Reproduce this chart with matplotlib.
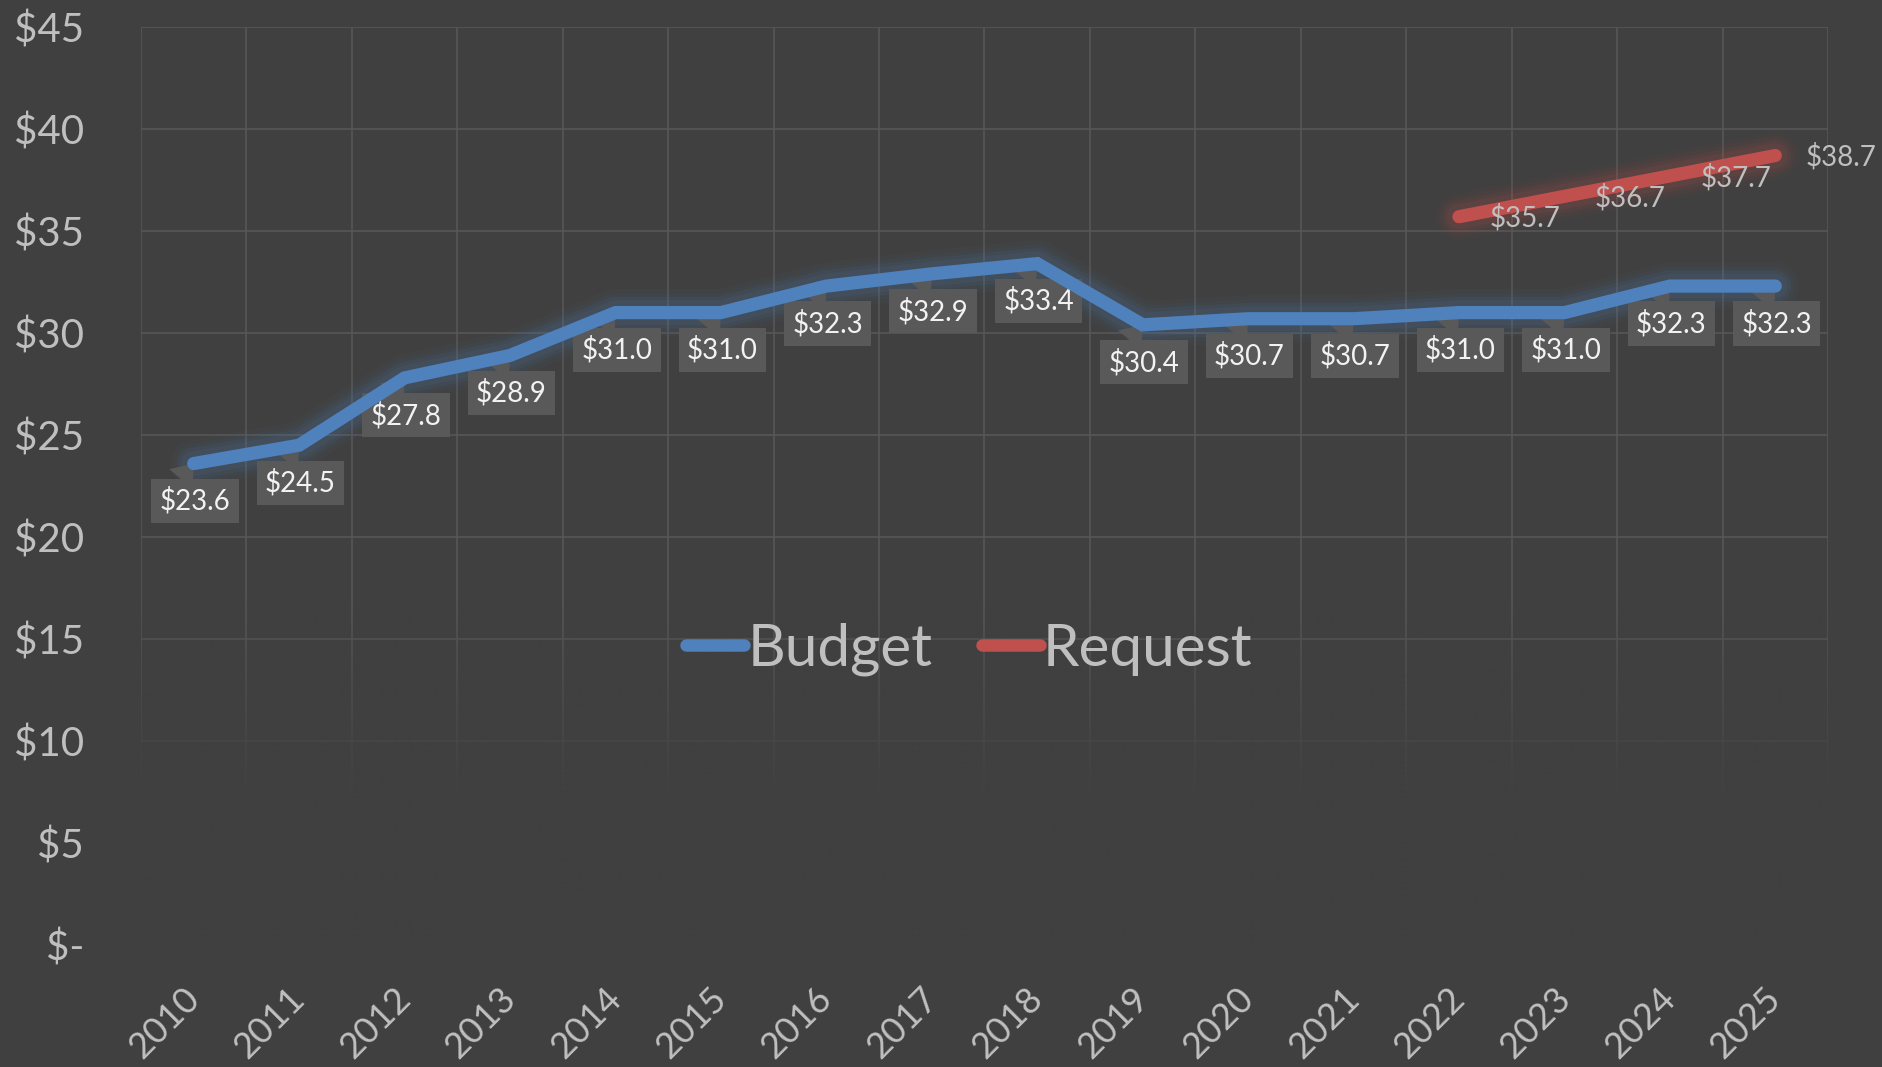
import numpy as np
import matplotlib
matplotlib.use('Agg')
import matplotlib.pyplot as plt
import matplotlib.transforms as mtransforms
from matplotlib.ticker import FixedLocator

plt.rcParams['font.family'] = ['Lato', 'DejaVu Sans']

# data
years = ['2010', '2011', '2012', '2013', '2014', '2015', '2016', '2017',
         '2018', '2019', '2020', '2021', '2022', '2023', '2024', '2025']
budget = [23.6, 24.5, 27.8, 28.9, 31.0, 31.0, 32.3, 32.9,
          33.4, 30.4, 30.7, 30.7, 31.0, 31.0, 32.3, 32.3]
request_years = ['2022', '2023', '2024', '2025']
request = [35.7, 36.7, 37.7, 38.7]
y_ticks = [0, 5, 10, 15, 20, 25, 30, 35, 40, 45]

BG = '#404040'
GRID = '#585858'
TXT = '#bfbfbf'
BLUE = '#4f81bd'
RED = '#c0504d'
BOX = '#595959'

fig = plt.figure(figsize=(18.82, 10.67), dpi=100, facecolor=BG)
ax = fig.add_axes([141 / 1882, 1 - 945 / 1067, 1687 / 1882, 918 / 1067])
ax.set_facecolor(BG)

x = np.arange(len(years))
xr = np.array([years.index(y) for y in request_years])

# grid
ax.set_axisbelow(True)
ax.set_xticks(x)
ax.xaxis.set_minor_locator(FixedLocator(np.arange(-0.5, len(years), 1.0)))
ax.set_yticks(y_ticks)
ax.grid(True, which='minor', axis='x', color=GRID, lw=1.1)
ax.grid(True, which='major', axis='y', color=GRID, lw=1.1)
for s in ax.spines.values():
    s.set_visible(False)

# fade the lower part of the grid
yv = np.linspace(18, 0, 300)[:, None]
rgba = np.zeros((300, 2, 4))
rgba[..., :3] = matplotlib.colors.to_rgb(BG)
rgba[..., 3] = np.clip((17 - yv) / 10.0, 0, 1)
ax.imshow(rgba, extent=[-0.5, len(years) - 0.5, 0, 18], origin='upper',
          aspect='auto', zorder=1, interpolation='bilinear')

# glow + lines
for lw, a in [(34, 0.04), (28, 0.05), (23, 0.07), (18, 0.09)]:
    ax.plot(x, budget, color=BLUE, lw=lw, alpha=a, solid_capstyle='round',
            solid_joinstyle='round', zorder=2)
    ax.plot(xr, request, color=RED, lw=lw, alpha=a, solid_capstyle='round',
            solid_joinstyle='round', zorder=2)
ax.plot(x, budget, color=BLUE, lw=9.5, solid_capstyle='round',
        solid_joinstyle='miter', zorder=6, label='Budget')
ax.plot(xr, request, color=RED, lw=9.5, solid_capstyle='round',
        solid_joinstyle='miter', zorder=6, label='Request')

# budget data labels with callouts
for xi, v in zip(x, budget):
    ax.annotate(f'${v:.1f}', xy=(xi, v), xytext=(1, -27),
                textcoords='offset points', ha='center', va='center',
                fontsize=20, color='#f2f2f2', zorder=5,
                bbox=dict(boxstyle='square,pad=0.3', fc=BOX, ec='none'),
                arrowprops=dict(arrowstyle='wedge,tail_width=1.1,shrink_factor=0.5',
                                fc=BOX, ec='none', relpos=(0.2, 1.0),
                                shrinkA=0, shrinkB=0))

# request data labels
for xi, v in zip(xr, request):
    ax.annotate(f'${v:.1f}', xy=(xi, v), xytext=(22, -1),
                textcoords='offset points', ha='left', va='center',
                fontsize=20, color=TXT, zorder=7)

ax.set_xlim(-0.5, len(years) - 0.5)
ax.set_ylim(0, 45)

ax.set_yticklabels(['$-' if t == 0 else f'${t}' for t in y_ticks])
ax.set_xticklabels(years, rotation=45, ha='right', va='top')
ax.tick_params(axis='y', which='both', length=0, pad=41, labelsize=29, labelcolor=TXT)
ax.tick_params(axis='x', which='both', length=0, pad=26, labelsize=26, labelcolor=TXT)
off = mtransforms.ScaledTranslation(12 / 100, 0, fig.dpi_scale_trans)
for lab in ax.get_xticklabels():
    lab.set_transform(lab.get_transform() + off)

leg = ax.legend(loc='center', bbox_to_anchor=(0.491, 0.322), ncol=2, frameon=False,
                fontsize=42, labelcolor=TXT, handlelength=1.0, handletextpad=0.05,
                columnspacing=0.85)
for h in leg.get_lines():
    h.set_linewidth(9)
    h.set_solid_capstyle('round')

fig.savefig('out.png', dpi=100, facecolor=BG)
